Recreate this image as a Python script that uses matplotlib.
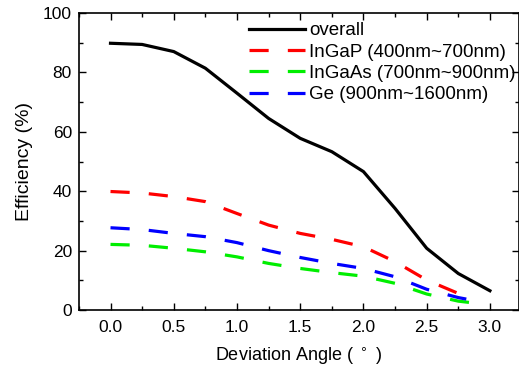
import matplotlib
matplotlib.use("Agg")
import matplotlib.pyplot as plt
from matplotlib.ticker import MultipleLocator

plt.rcParams['font.family'] = ['Liberation Sans', 'DejaVu Sans']

# data
angle = [0.0, 0.25, 0.5, 0.75, 1.0, 1.25, 1.5, 1.75, 2.0, 2.25, 2.5, 2.75, 3.0]
overall = [89.8, 89.4, 87.0, 81.4, 73.0, 64.5, 57.8, 53.3, 46.6, 34.2, 20.8, 12.3, 6.5]

angle_sub = [0.0, 0.25, 0.5, 0.75, 1.0, 1.25, 1.5, 1.75, 2.0, 2.25, 2.5, 2.75, 2.85]
ingap = [39.9, 39.4, 38.2, 36.5, 32.5, 28.6, 25.8, 23.8, 21.3, 16.3, 10.1, 5.6, 4.5]
ingaas = [22.1, 21.8, 20.8, 19.6, 17.9, 15.7, 14.0, 12.6, 11.4, 9.0, 5.4, 3.0, 2.5]
ge = [27.7, 27.1, 25.8, 24.7, 22.7, 20.0, 17.7, 15.7, 14.0, 11.2, 7.0, 4.2, 3.4]

labels = ['overall', 'InGaP (400nm~700nm)', 'InGaAs (700nm~900nm)', 'Ge (900nm~1600nm)']

fig = plt.figure(figsize=(5.19, 3.70), dpi=100)
ax = fig.add_axes([0.152, 0.162, 0.848, 0.803])

ax.plot(angle, overall, color='black', lw=2.3, label=labels[0])
ax.plot(angle_sub, ingap, color='#ff0000', lw=2.3, dashes=(6, 6), label=labels[1])
ax.plot(angle_sub, ingaas, color='#00ee00', lw=2.3, dashes=(6, 6), label=labels[2])
ax.plot(angle_sub, ge, color='#0000ff', lw=2.3, dashes=(6, 6), label=labels[3])

ax.set_xlim(-0.25, 3.23)
ax.set_ylim(0, 100)
ax.xaxis.set_major_locator(MultipleLocator(0.5))
ax.xaxis.set_minor_locator(MultipleLocator(0.25))
ax.yaxis.set_major_locator(MultipleLocator(20))
ax.yaxis.set_minor_locator(MultipleLocator(10))
ax.tick_params(which='both', direction='in', top=True, right=True, labelsize=12.5)
ax.tick_params(which='major', length=5, width=1)
ax.tick_params(which='minor', length=3, width=1)
ax.xaxis.set_major_formatter(matplotlib.ticker.FormatStrFormatter('%.1f'))
ax.tick_params(axis='x', pad=7)
ax.tick_params(axis='y', pad=5)

for s in ax.spines.values():
    s.set_linewidth(1.2)

ax.set_xlabel('Deviation Angle ( $^\\circ$ )', fontsize=13, labelpad=8)
ax.set_ylabel('Efficiency (%)', fontsize=14, labelpad=7)

ax.legend(loc='upper left', bbox_to_anchor=(0.365, 1.0), frameon=False, fontsize=13.5,
          handlelength=3.0, handletextpad=0.2, labelspacing=0.22, borderaxespad=0.1)

fig.savefig('out.png', dpi=100)
